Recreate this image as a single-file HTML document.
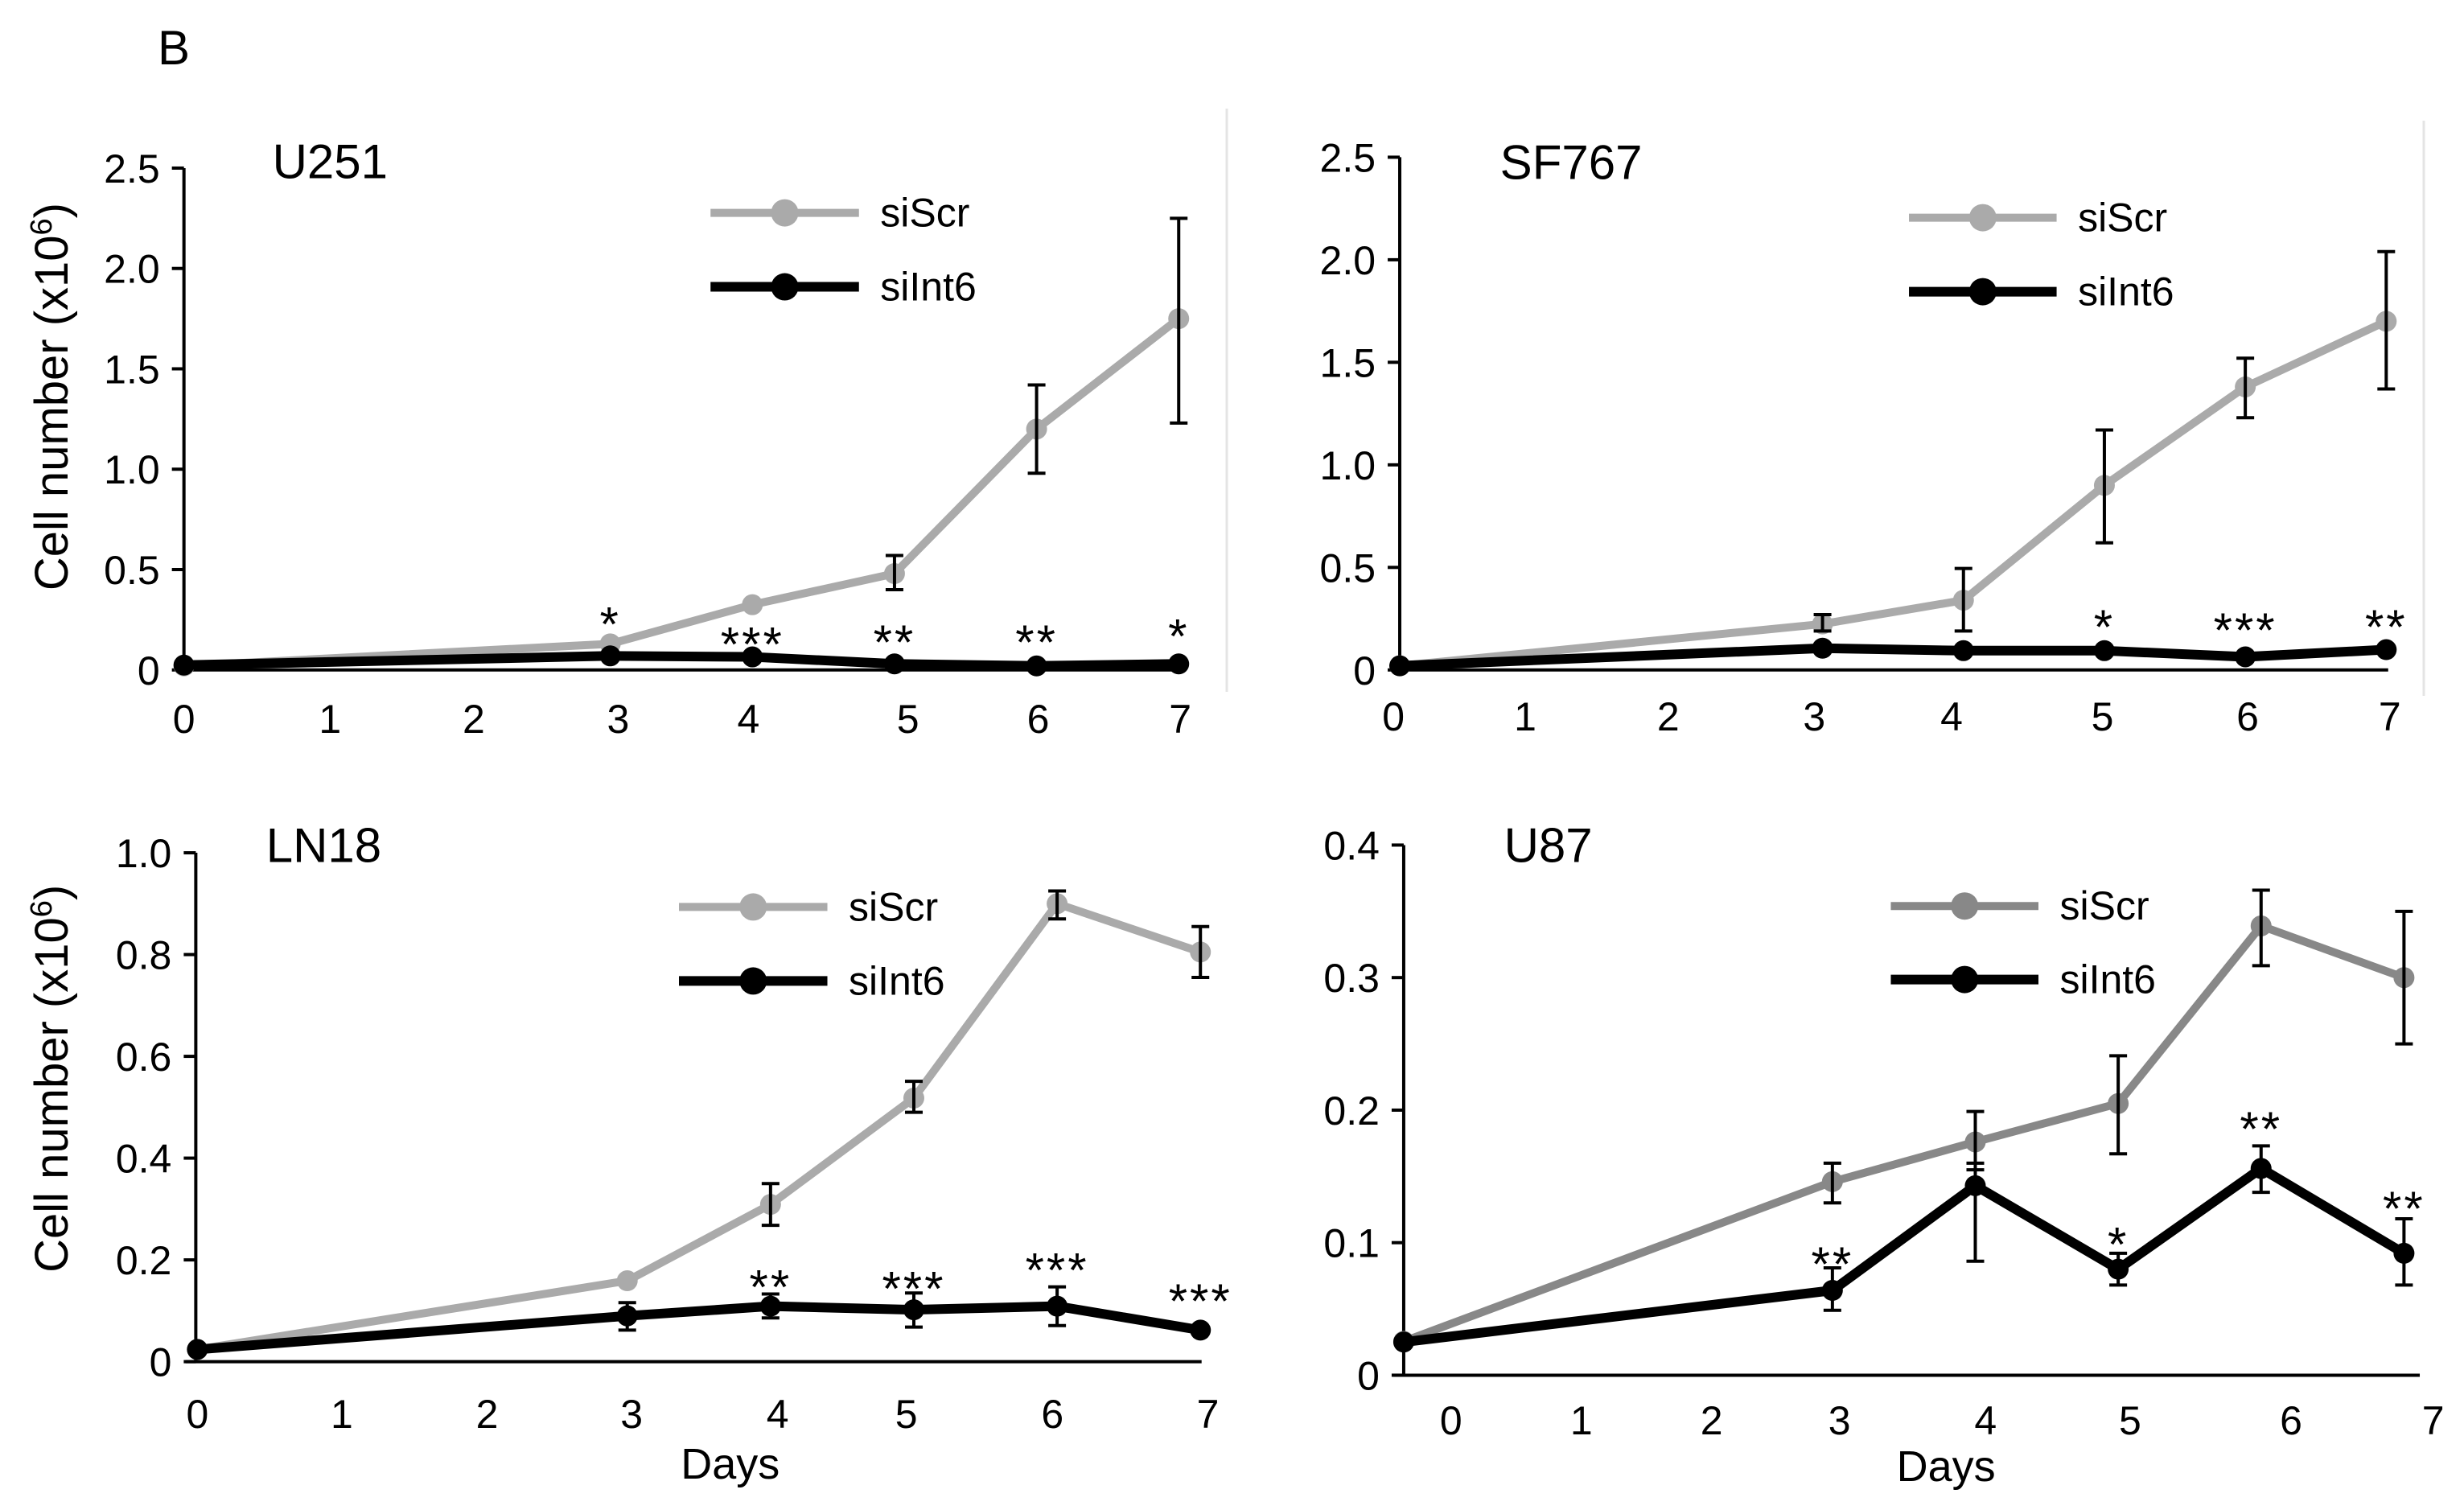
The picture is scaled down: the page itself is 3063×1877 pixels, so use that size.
<!DOCTYPE html>
<html><head><meta charset="utf-8"><style>
html,body{margin:0;padding:0;background:#fff;}
svg{display:block;font-family:"Liberation Sans",sans-serif;}
</style></head><body>
<svg id="fig" width="3063" height="1877" viewBox="0 0 3063 1877" xmlns="http://www.w3.org/2000/svg">
<text x="196" y="80" font-size="60">B</text>
<line x1="1525" y1="135" x2="1525" y2="860" stroke="#e4e4e4" stroke-width="3"/>
<line x1="3013" y1="150" x2="3013" y2="865" stroke="#e4e4e4" stroke-width="3"/>
</svg>
<script>
const days = [0,3,4,5,6,7];
const xTickLabels = ["0","1","2","3","4","5","6","7"];
// U251
const u251Scr = [0.02,0.13,0.325,0.48,1.2,1.75];
const u251ScrHi = [null,null,null,0.57,1.42,2.25];
const u251ScrLo = [null,null,null,0.40,0.98,1.23];
const u251Int = [0.024,0.07,0.065,0.03,0.02,0.03];
const u251Stars = ["","*","***","**","**","*"];
const u251StarY = [0,0.29,0.19,0.2,0.2,0.23];
const u251YTicks = [0,0.5,1.0,1.5,2.0,2.5];
const u251YLabels = ["0","0.5","1.0","1.5","2.0","2.5"];
// SF767
const sfScr = [0.02,0.224,0.34,0.90,1.38,1.70];
const sfScrHi = [null,0.27,0.495,1.17,1.52,2.04];
const sfScrLo = [null,0.19,0.19,0.62,1.23,1.37];
const sfInt = [0.02,0.106,0.094,0.094,0.064,0.099];
const sfStars = ["","","","*","***","**"];
const sfStarY = [0,0,0,0.27,0.255,0.27];
const sfYTicks = [0,0.5,1.0,1.5,2.0,2.5];
const sfYLabels = ["0","0.5","1.0","1.5","2.0","2.5"];
// LN18
const lnScr = [0.024,0.159,0.309,0.518,0.90,0.805];
const lnScrHi = [null,null,0.35,0.551,0.925,0.855];
const lnScrLo = [null,null,0.268,0.49,0.87,0.755];
const lnInt = [0.024,0.09,0.109,0.102,0.109,0.062];
const lnIntHi = [null,0.116,0.133,0.135,0.147,null];
const lnIntLo = [null,0.062,0.086,0.068,0.071,null];
const lnStars = ["","","**","***","***","***"];
const lnStarY = [0,0,0.171,0.168,0.204,0.143];
const lnYTicks = [0,0.2,0.4,0.6,0.8,1.0];
const lnYLabels = ["0","0.2","0.4","0.6","0.8","1.0"];
// U87
const u87Scr = [0.0255,0.146,0.176,0.205,0.339,0.300];
const u87ScrHi = [null,0.16,0.199,0.241,0.366,0.35];
const u87ScrLo = [null,0.13,0.155,0.167,0.309,0.25];
const u87Int = [0.025,0.064,0.143,0.08,0.156,0.092];
const u87IntHi = [null,0.081,0.16,0.092,0.173,0.118];
const u87IntLo = [null,0.049,0.086,0.068,0.138,0.068];
const u87Stars = ["","**","","*","**","**"];
const u87StarY = [0,0.093,0,0.108,0.195,0.135];
const u87YTicks = [0,0.1,0.2,0.3,0.4];
const u87YLabels = ["0","0.1","0.2","0.3","0.4"];

const NS = "http://www.w3.org/2000/svg";
const svg = document.getElementById('fig');
const SX = 1531/1560, SY = 938/1560;
function mk(tag, attrs, parent){const e=document.createElementNS(NS,tag);for(const k in attrs)e.setAttribute(k,attrs[k]);(parent||svg).appendChild(e);return e;}

function panel(cfg){
  const g = mk('g',{});
  
  
  const X = d => cfg.ox + (cfg.x0 + cfg.dx*d)*SX;
  const Y = v => cfg.oy + (cfg.y0 - cfg.pu*v)*SY;
  const axX = cfg.ox + cfg.axx*SX;
  const yTop = Y(cfg.yTicks[cfg.yTicks.length-1]);
  const yBase = Y(0);
  const ya = mk('line',{x1:axX,y1:yTop,x2:axX,y2:yBase,stroke:'#000','stroke-width':4},g);
  
  
  const xa = mk('line',{x1:cfg.ox+cfg.xaStart*SX,y1:yBase,x2:cfg.ox+cfg.xaEnd*SX,y2:yBase,stroke:'#000','stroke-width':4},g);
  
  
  cfg.yTicks.forEach((t,i)=>{
    const y=Y(t);
    const tk=mk('line',{x1:axX-15,y1:y,x2:axX,y2:y,stroke:'#000','stroke-width':4},g);
    
    
    const tl=mk('text',{x:axX-30,y:y+18,'font-size':50,'text-anchor':'end'},g);
    
    
    tl.textContent=cfg.yLabels[i];
  });
  xTickLabels.forEach((l,i)=>{
    const tl=mk('text',{x:cfg.ox+cfg.xl[i]*SX,y:cfg.oy+cfg.xly*SY+18,'font-size':50,'text-anchor':'middle'},g);
    
    
    tl.textContent=l;
  });
  const tt=mk('text',{x:cfg.ox+cfg.tx*SX,y:cfg.oy+cfg.ty*SY,'font-size':60},g);
  
  
  tt.textContent=cfg.title;
  if(cfg.ylabel){
    const cx=cfg.ox+65*SX, cy=cfg.oy+cfg.ylc*SY;
    const yl=mk('text',{x:cx,y:cy,'font-size':58,'text-anchor':'middle',transform:`rotate(-90 ${cx} ${cy}) translate(0 20)`},g);
    
    
    yl.innerHTML='Cell number (x10<tspan font-size="38" dy="-20">6</tspan><tspan dy="20">)</tspan>';
  }
  if(cfg.days){
    const dl=mk('text',{x:cfg.ox+cfg.days[0]*SX,y:cfg.oy+cfg.days[1]*SY+19,'font-size':54,'text-anchor':'middle'},g);
    
    
    dl.textContent='Days';
  }
  [[cfg.scrColor,'siScr',cfg.lg[2]],['#000','siInt6',cfg.lg[3]]].forEach(([c,lab,ly])=>{
    const y=cfg.oy+ly*SY;
    const lgG=mk('g',{},g);
    
    
    mk('line',{x1:cfg.ox+cfg.lg[0]*SX,y1:y,x2:cfg.ox+cfg.lg[1]*SX,y2:y,stroke:c,'stroke-width':c==='#000'?12:10},lgG);
    mk('circle',{cx:cfg.ox+(cfg.lg[0]+cfg.lg[1])/2*SX,cy:y,r:17,fill:c},lgG);
    const t=mk('text',{x:cfg.ox+(cfg.lg[1]+27)*SX,y:y+17,'font-size':50},lgG);
    t.textContent=lab;
  });
  function err(vals,hi,lo,nm){
    days.forEach((d,i)=>{
      if(hi&&hi[i]!=null){
        const x=X(d);
        const eg=mk('g',{stroke:'#000','stroke-width':4},g);
        
        
        mk('line',{x1:x,y1:Y(hi[i]),x2:x,y2:Y(lo[i])},eg);
        mk('line',{x1:x-11,y1:Y(hi[i]),x2:x+11,y2:Y(hi[i])},eg);
        mk('line',{x1:x-11,y1:Y(lo[i]),x2:x+11,y2:Y(lo[i])},eg);
      }
    });
  }
  function series(vals,color,w,nm){
    const pl=mk('polyline',{points:days.map((d,i)=>X(d)+','+Y(vals[i])).join(' '),fill:'none',stroke:color,'stroke-width':w,'stroke-linejoin':'round'},g);
    
    
    days.forEach((d,i)=>{
      const c=mk('circle',{cx:X(d),cy:Y(vals[i]),r:13,fill:color},g);
      
      
    });
  }
  series(cfg.scr,cfg.scrColor,10,'siscr');
  err(cfg.scr,cfg.scrHi,cfg.scrLo,'siscr');
  series(cfg.int,'#000',12,'siint6');
  err(cfg.int,cfg.intHi,cfg.intLo,'siint6');
  days.forEach((d,i)=>{
    if(cfg.stars[i]){
      const s=mk('text',{x:X(d),y:Y(cfg.starY[i])+36,'font-size':60,'text-anchor':'middle','letter-spacing':'3'},g);
      
      
      s.textContent=cfg.stars[i];
    }
  });
}

panel({name:'panel-u251',title:'U251',ox:0,oy:0,x0:233,dx:180,y0:1385,pu:415,axx:233,xaStart:233,xaEnd:1495,
  xl:[233,418,600,783,948,1150,1315,1495],xly:1485,tx:345,ty:368,ylabel:true,ylc:820,
  lg:[900,1088,440,593],scrColor:'#aaaaaa',scr:u251Scr,scrHi:u251ScrHi,scrLo:u251ScrLo,int:u251Int,
  stars:u251Stars,starY:u251StarY,yTicks:u251YTicks,yLabels:u251YLabels});
panel({name:'panel-sf767',title:'SF767',ox:1531,oy:0,x0:213,dx:178.5,y0:1385,pu:424,axx:213,xaStart:213,xaEnd:1465,
  xl:[205,372,553,738,912,1103,1287,1467],xly:1480,tx:340,ty:370,
  lg:[858,1045,450,603],scrColor:'#aaaaaa',scr:sfScr,scrHi:sfScrHi,scrLo:sfScrLo,int:sfInt,
  stars:sfStars,starY:sfStarY,yTicks:sfYTicks,yLabels:sfYLabels});
panel({name:'panel-ln18',title:'LN18',ox:0,oy:938,x0:250,dx:181.5,y0:1255,pu:1052,axx:248,xaStart:235,xaEnd:1522,
  xl:[250,433,617,800,985,1148,1333,1530],xly:1362,tx:337,ty:222,ylabel:true,ylc:670,days:[925,1465],
  lg:[860,1048,315,468],scrColor:'#aaaaaa',scr:lnScr,scrHi:lnScrHi,scrLo:lnScrLo,int:lnInt,intHi:lnIntHi,intLo:lnIntLo,
  stars:lnStars,starY:lnStarY,yTicks:lnYTicks,yLabels:lnYLabels});
panel({name:'panel-u87',title:'U87',ox:1531,oy:938,x0:218,dx:181,y0:1283,pu:2740,axx:218,xaStart:205,xaEnd:1505,
  xl:[278,443,608,770,955,1138,1342,1522],xly:1375,tx:345,ty:222,days:[905,1470],
  lg:[835,1022,313,465],scrColor:'#888888',scr:u87Scr,scrHi:u87ScrHi,scrLo:u87ScrLo,int:u87Int,intHi:u87IntHi,intLo:u87IntLo,
  stars:u87Stars,starY:u87StarY,yTicks:u87YTicks,yLabels:u87YLabels});
</script>
</body></html>
